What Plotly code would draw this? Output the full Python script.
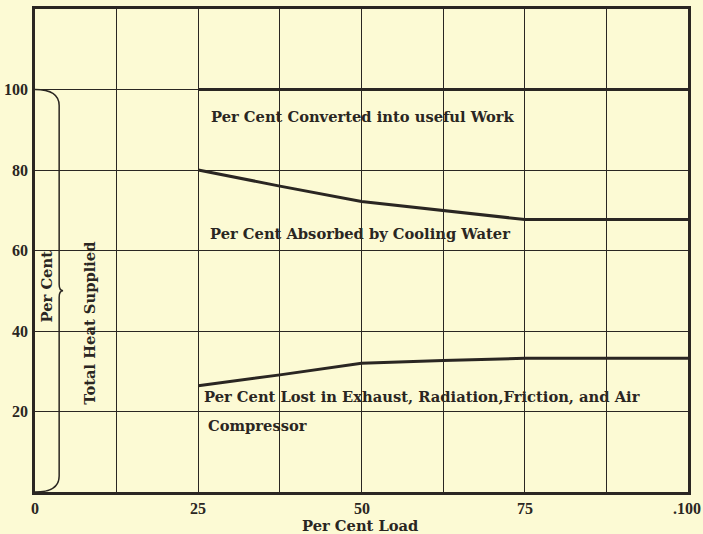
import plotly.graph_objects as go

# Heat balance of an engine at various loads
load = [25, 37.5, 50, 62.5, 75, 100]                 # per cent load
exhaust = [26.4, 29.1, 32.0, 32.7, 33.2, 33.2]       # lost in exhaust, radiation, friction, air compressor
cooling = [53.6, 46.9, 40.2, 37.3, 34.5, 34.5]       # absorbed by cooling water
work = [20.0, 24.0, 27.8, 30.0, 32.3, 32.3]          # converted into useful work

grid_x = [0, 12.5, 25, 37.5, 50, 62.5, 75, 87.5, 100]
x_tickvals = [0, 25, 50, 75, 100]
x_ticktext = ["0", "25", "50", "75", ".100"]
grid_y = [0, 20, 40, 60, 80, 100, 120]
y_tickvals = [20, 40, 60, 80, 100]
y_ticktext = ["20", "40", "60", "80", "100"]

INK = "#2a2622"
PAPER = "#FCFAD4"
FONT = "DejaVu Serif"
DIGIT_FONT = "Liberation Serif"

# cumulative boundaries of the stacked heat balance
lower_bound = exhaust
upper_bound = [e + c for e, c in zip(exhaust, cooling)]
total = [e + c + w for e, c, w in zip(exhaust, cooling, work)]

fig = go.Figure()
for ys in (lower_bound, upper_bound, total):
    fig.add_trace(go.Scatter(x=load, y=ys, mode="lines",
                             line=dict(color=INK, width=3),
                             hoverinfo="skip", showlegend=False))

axis_common = dict(showgrid=True, gridcolor=INK, gridwidth=1.3,
                   zeroline=False, showline=True, linecolor=INK, linewidth=3,
                   mirror=True, ticks="")

fig.update_xaxes(range=[0, 100], tickvals=grid_x, showticklabels=False, **axis_common)
fig.update_yaxes(range=[0, 120], tickvals=grid_y, showticklabels=False, **axis_common)

tick_font = dict(family=DIGIT_FONT, size=16, color=INK, weight="bold")
for v, t in zip(x_tickvals, x_ticktext):
    fig.add_annotation(text=t, x=v, y=0, xref="x", yref="paper",
                       yshift=-16, xshift=(-1 if v == 100 else 0),
                       yanchor="middle", showarrow=False, font=tick_font)
for v, t in zip(y_tickvals, y_ticktext):
    fig.add_annotation(text=t, x=0, y=v, xref="paper", yref="y",
                       xshift=-5, xanchor="right", yanchor="middle",
                       showarrow=False, font=tick_font)

# curly brace spanning the total heat supplied
fig.add_shape(type="path", xref="x", yref="y",
              path="M 0,100 Q 3.7,100 3.7,96 L 3.7,51.6 Q 3.7,50 4.3,50 "
                   "Q 3.7,50 3.7,48.4 L 3.7,4 Q 3.7,0 0,0",
              line=dict(color=INK, width=1.5))

label_font = dict(family=FONT, size=14.7, color=INK, weight="bold")
texts = [
    ("Per Cent Converted into useful Work", 26.6, 93.4),
    ("Per Cent Absorbed by Cooling Water", 26.5, 64.2),
    ("Per Cent Lost in Exhaust, Radiation,Friction, and Air", 25.6, 23.7),
    ("Compressor", 26.2, 16.6),
]
for t, x, y in texts:
    fig.add_annotation(text=t, x=x, y=y, xref="x", yref="y",
                       xanchor="left", yanchor="middle", showarrow=False,
                       font=label_font)

fig.add_annotation(text="Per Cent", x=1.7, y=51.1, xref="x", yref="y",
                   textangle=-90, showarrow=False, font=label_font)
fig.add_annotation(text="Total Heat Supplied", x=8.4, y=42.0, xref="x", yref="y",
                   textangle=-90, showarrow=False, font=label_font)
# axis title set just under the tick numbers
fig.add_annotation(text="Per Cent Load", x=0.497, y=0, xref="paper", yref="paper",
                   yshift=-33, yanchor="middle", showarrow=False, font=label_font,
                   borderpad=0, bgcolor="rgba(0,0,0,0)")

fig.update_layout(width=703, height=534,
                  margin=dict(l=35, r=15, t=6, b=42),
                  paper_bgcolor=PAPER, plot_bgcolor=PAPER)

fig.write_html("out.html")
